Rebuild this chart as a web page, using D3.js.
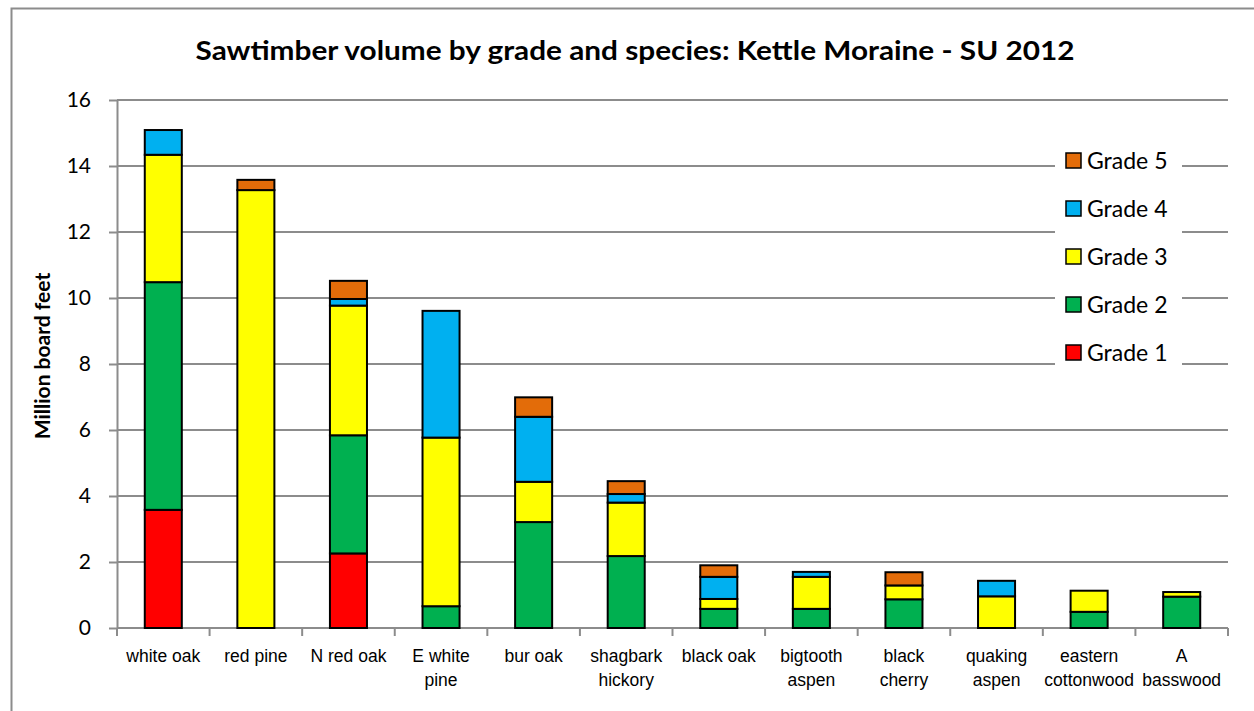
<!DOCTYPE html>
<html>
<head>
<meta charset="utf-8">
<script src="https://cdn.jsdelivr.net/npm/d3@7"></script>
<style>
  html, body { margin: 0; padding: 0; background: #fff; }
  svg { display: block; }
</style>
</head>
<body>
<svg id="chart" width="1254" height="711"></svg>
<script>
// Sawtimber volume (million board feet) by species, stacked by grade
const species = ["white oak", "red pine", "N red oak", "E white pine", "bur oak", "shagbark hickory",
                 "black oak", "bigtooth aspen", "black cherry", "quaking aspen", "eastern cottonwood", "A basswood"];
const speciesLines = [["white oak"], ["red pine"], ["N red oak"], ["E white", "pine"], ["bur oak"], ["shagbark", "hickory"],
                      ["black oak"], ["bigtooth", "aspen"], ["black", "cherry"], ["quaking", "aspen"], ["eastern", "cottonwood"], ["A", "basswood"]];
const grades = ["Grade 1", "Grade 2", "Grade 3", "Grade 4", "Grade 5"];
const grade1 = [3.58, 0,     2.26, 0,    0,    0,    0,    0,    0,    0,    0,    0];
const grade2 = [6.90, 0,     3.58, 0.66, 3.21, 2.18, 0.58, 0.58, 0.87, 0,    0.49, 0.95];
const grade3 = [3.86, 13.27, 3.93, 5.11, 1.22, 1.62, 0.30, 0.97, 0.42, 0.96, 0.64, 0.14];
const grade4 = [0.75, 0,     0.20, 3.84, 1.97, 0.26, 0.67, 0.15, 0,    0.47, 0,    0];
const grade5 = [0,    0.31,  0.55, 0,    0.59, 0.39, 0.35, 0,    0.40, 0,    0,    0];
const gradeColors = ["#ff0000", "#00b050", "#ffff00", "#00b0f0", "#e36c09"];
const yTicks = [0, 2, 4, 6, 8, 10, 12, 14, 16];

const seriesValues = [grade1, grade2, grade3, grade4, grade5];
const rows = species.map((s, i) => {
  const r = { species: s };
  grades.forEach((g, k) => { r[g] = seriesValues[k][i]; });
  return r;
});
const stacked = d3.stack().keys(grades)(rows);

const svg = d3.select("#chart");
const margin = { left: 117, right: 1228, top: 100, bottom: 628 };
const calibriLike = "Lato, 'Open Sans', sans-serif";

// chart frame
svg.append("path")
  .attr("d", `M11.5,711 L11.5,8.5 L1254,8.5`)
  .attr("fill", "none").attr("stroke", "#8c8c8c").attr("stroke-width", 2);

const x = d3.scaleBand().domain(species).range([margin.left, margin.right]).paddingInner(0.6).paddingOuter(0.3);
const band = d3.scaleBand().domain(species).range([margin.left, margin.right]);
const y = d3.scaleLinear().domain([0, 16]).range([margin.bottom, margin.top]);

// horizontal gridlines
svg.append("g").selectAll("line").data(yTicks.filter(t => t > 0)).join("line")
  .attr("x1", margin.left).attr("x2", margin.right)
  .attr("y1", d => y(d)).attr("y2", d => y(d))
  .attr("stroke", "#8c8c8c").attr("stroke-width", 2);

// y axis
const yAxis = svg.append("g").attr("transform", `translate(${margin.left},0)`)
  .call(d3.axisLeft(y).tickValues(yTicks).tickSize(8).tickPadding(18).tickSizeOuter(0));
yAxis.select(".domain").attr("stroke", "#8c8c8c").attr("stroke-width", 2);
yAxis.selectAll(".tick line").attr("stroke", "#8c8c8c").attr("stroke-width", 2);
yAxis.selectAll(".tick text").attr("font-family", calibriLike)
  .attr("font-size", 21).attr("fill", "#000");

// x axis baseline and category ticks
svg.append("line").attr("x1", margin.left).attr("x2", margin.right)
  .attr("y1", margin.bottom).attr("y2", margin.bottom)
  .attr("stroke", "#8c8c8c").attr("stroke-width", 2);
const tickXs = species.map(s => band(s)).concat([band(species[species.length - 1]) + band.bandwidth()]);
svg.append("g").selectAll("line").data(tickXs).join("line")
  .attr("x1", d => d).attr("x2", d => d)
  .attr("y1", margin.bottom).attr("y2", margin.bottom + 8)
  .attr("stroke", "#8c8c8c").attr("stroke-width", 2);

// stacked bars
svg.append("g").selectAll("g").data(stacked).join("g")
  .attr("fill", (d, i) => gradeColors[i])
  .selectAll("rect").data(d => d.filter(p => p[1] - p[0] > 0)).join("rect")
  .attr("x", d => x(d.data.species))
  .attr("width", x.bandwidth())
  .attr("y", d => y(d[1]))
  .attr("height", d => y(d[0]) - y(d[1]))
  .attr("stroke", "#000").attr("stroke-width", 2);

// category labels
const catG = svg.append("g").attr("font-family", "'Liberation Sans', Arial, sans-serif")
  .attr("font-size", 17.5).attr("text-anchor", "middle").attr("fill", "#000");
species.forEach((s, i) => {
  const cx = band(s) + band.bandwidth() / 2;
  speciesLines[i].forEach((line, j) => {
    catG.append("text").attr("x", cx).attr("y", 662 + j * 24).text(line);
  });
});

// y axis title
svg.append("text")
  .attr("transform", `translate(50,356) rotate(-90)`)
  .attr("text-anchor", "middle")
  .attr("font-family", calibriLike)
  .attr("font-weight", "bold").attr("font-size", 21)
  .text("Million board feet");

// title
svg.append("text")
  .attr("x", 635).attr("y", 60)
  .attr("text-anchor", "middle")
  .attr("font-family", calibriLike)
  .attr("font-weight", "bold").attr("font-size", 27)
  .attr("textLength", 879).attr("lengthAdjust", "spacingAndGlyphs")
  .text("Sawtimber volume by grade and species: Kettle Moraine - SU 2012");

// legend
const legend = svg.append("g");
legend.append("rect").attr("x", 1055).attr("y", 140).attr("width", 127).attr("height", 232).attr("fill", "#fff");
const legendOrder = grades.slice().reverse();
legendOrder.forEach((g, i) => {
  const cy = 160.5 + i * 48;
  const k = grades.indexOf(g);
  legend.append("rect").attr("x", 1066).attr("y", cy - 7.5).attr("width", 15).attr("height", 15)
    .attr("fill", gradeColors[k]).attr("stroke", "#000").attr("stroke-width", 1.5);
  legend.append("text").attr("x", 1087).attr("y", cy + 8)
    .attr("font-family", calibriLike).attr("font-size", 23).text(g);
});
</script>
</body>
</html>
